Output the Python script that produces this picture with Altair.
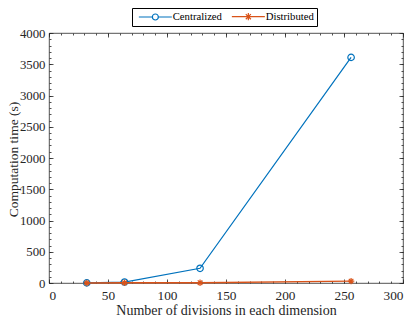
import altair as alt
import pandas as pd

divisions = [32, 64, 128, 256]
centralized = [2, 15, 235, 3610]
distributed = [1, 3, 5, 30]
series = ["Centralized", "Distributed"]
colors = ["#0072BD", "#D95319"]
x_major = list(range(0, 301, 50))
x_minor = list(range(0, 301, 10))
y_major = list(range(0, 4001, 500))
y_minor = list(range(0, 4001, 100))

FONT = "Liberation Serif"
AXC = "#262626"

df_c = pd.DataFrame({"x": divisions, "y": centralized})
df_d = pd.DataFrame({"x": divisions, "y": distributed})
df_s = pd.DataFrame({"s": series})

xs = alt.Scale(domain=[0, 300], nice=False, zero=False)
ys = alt.Scale(domain=[0, 4000], nice=False, zero=False)

circle_path = "M1,0A1,1,0,1,1,-1,0A1,1,0,1,1,1,0"
star_path = "M-1,0L1,0M0,-1L0,1M-0.7,-0.7L0.7,0.7M-0.7,0.7L0.7,-0.7"
leg_circle = "M-5.5,0L-1,0M1,0L5.5,0M1,0A1,1,0,1,1,-1,0A1,1,0,1,1,1,0"
leg_star = "M-5.5,0L5.5,0M0,-1.2L0,1.2M-0.85,-0.85L0.85,0.85M-0.85,0.85L0.85,-0.85"

main_x = alt.Axis(values=x_major, ticks=False, tickSize=0, domain=False, grid=False,
                  labelPadding=5, labelFont=FONT, labelFontSize=13.3, labelColor=AXC,
                  title="Number of divisions in each dimension", titleFont=FONT,
                  titleFontSize=14, titleFontWeight="normal", titleColor=AXC,
                  titleBaseline="alphabetic", titleY=31, titleX=177, format="d")
main_y = alt.Axis(values=y_major, ticks=False, tickSize=0, domain=False, grid=False,
                  labelPadding=4, labelFont=FONT, labelFontSize=12.8, labelColor=AXC,
                  title="Computation time (s)", titleFont=FONT, titleFontSize=13.5,
                  titleFontWeight="normal", titleColor=AXC, titleBaseline="alphabetic",
                  titleX=-32, titleY=126, titleAngle=270, format="d")

line_c = alt.Chart(df_c).mark_line(color=colors[0], strokeWidth=1.2).encode(
    x=alt.X("x:Q", scale=xs, axis=main_x),
    y=alt.Y("y:Q", scale=ys, axis=main_y),
)
pts_c = alt.Chart(df_c).mark_point(shape=circle_path, size=42, filled=False,
                                   color=colors[0], strokeWidth=1.2, opacity=1).encode(
    x=alt.X("x:Q", scale=xs, axis=None),
    y=alt.Y("y:Q", scale=ys, axis=None),
)
line_d = alt.Chart(df_d).mark_line(color=colors[1], strokeWidth=1.5).encode(
    x=alt.X("x:Q", scale=xs, axis=None),
    y=alt.Y("y:Q", scale=ys, axis=None),
)
pts_d = alt.Chart(df_d).mark_point(shape=star_path, size=42, filled=False,
                                   color=colors[1], strokeWidth=1.2, opacity=1).encode(
    x=alt.X("x:Q", scale=xs, axis=None),
    y=alt.Y("y:Q", scale=ys, axis=None),
)


def tick_layer(channel, orient, values, size):
    ax = alt.Axis(orient=orient, values=values, tickSize=size, offset=-size,
                  labels=False, domain=False, grid=False, title=None,
                  tickColor=AXC, tickWidth=0.8)
    if channel == "x":
        enc = dict(x=alt.X("x:Q", scale=xs, axis=ax), y=alt.Y("y:Q", scale=ys, axis=None))
    else:
        enc = dict(x=alt.X("x:Q", scale=xs, axis=None), y=alt.Y("y:Q", scale=ys, axis=ax))
    return alt.Chart(df_c).mark_point(opacity=0).encode(**enc)


ticks = [
    tick_layer("x", "bottom", x_minor, 2), tick_layer("x", "bottom", x_major, 4),
    tick_layer("x", "top", x_minor, 2), tick_layer("x", "top", x_major, 4),
    tick_layer("y", "left", y_minor, 2), tick_layer("y", "left", y_major, 4),
    tick_layer("y", "right", y_minor, 2), tick_layer("y", "right", y_major, 4),
]

leg = alt.Legend(orient="none", legendX=83, legendY=-25, direction="horizontal",
                 title=None, strokeColor="black", padding=3, fillColor="white",
                 labelFont=FONT, labelFontSize=10.7, labelColor="black",
                 symbolSize=36, symbolOffset=15, labelOffset=12, columnPadding=6,
                 symbolStrokeWidth=1.2)

legend_layer = alt.Chart(df_s).transform_filter("false").mark_point(
    filled=False, strokeWidth=1.2, opacity=1).encode(
    color=alt.Color("s:N", scale=alt.Scale(domain=series, range=colors), legend=leg),
    shape=alt.Shape("s:N", scale=alt.Scale(domain=series, range=[leg_circle, leg_star]), legend=leg),
)

chart = alt.layer(line_c, pts_c, line_d, pts_d, *ticks, legend_layer).resolve_axis(
    x="independent", y="independent"
).properties(
    width=354, height=250,
    autosize=alt.AutoSizeParams(type="none"),
    padding={"left": 41, "top": 25, "right": 4, "bottom": 35},
).configure(background="white", font=FONT).configure_view(
    stroke=AXC, strokeWidth=0.8
).configure_axis(labelFont=FONT, titleFont=FONT).configure_legend(labelFont=FONT)

chart.save("out.html", embed_options={"renderer": "svg", "actions": False})
